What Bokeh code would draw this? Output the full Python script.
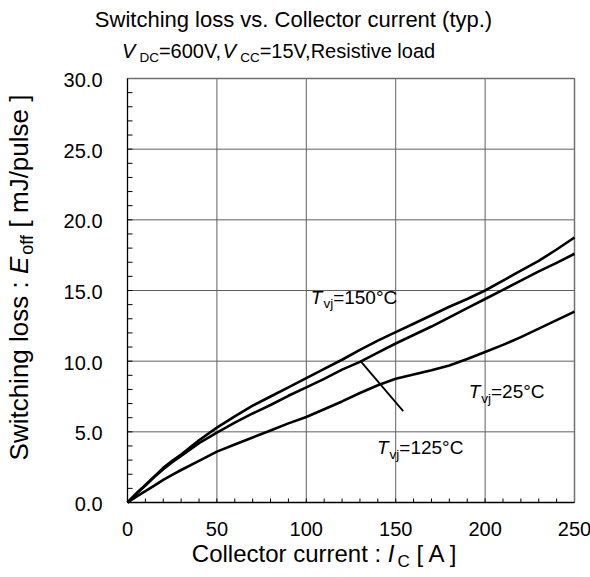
import math
from bokeh.plotting import figure
from bokeh.models import Range1d, Label
from bokeh.core.properties import value
from bokeh.embed import file_html
from bokeh.resources import INLINE

# ---------------- data ----------------
current_A = [0, 5, 10, 15, 20, 25, 30, 40, 50, 60, 70, 80, 90, 100, 110, 120, 130,
             140, 150, 160, 170, 180, 190, 200, 210, 220, 230, 240, 250]
eoff_150C = [0, 0.65, 1.25, 1.85, 2.45, 2.95, 3.4, 4.4, 5.3, 6.1, 6.85, 7.5, 8.15, 8.8,
             9.45, 10.1, 10.8, 11.45, 12.05, 12.65, 13.25, 13.85, 14.4, 15.0, 15.7,
             16.4, 17.1, 17.9, 18.75]
eoff_125C = [0, 0.62, 1.2, 1.8, 2.35, 2.85, 3.3, 4.2, 4.95, 5.65, 6.3, 6.9, 7.55, 8.15,
             8.75, 9.4, 9.95, 10.6, 11.25, 11.85, 12.45, 13.1, 13.75, 14.4, 15.05,
             15.7, 16.35, 16.95, 17.6]
eoff_25C = [0, 0.42, 0.8, 1.2, 1.6, 1.95, 2.3, 2.95, 3.6, 4.1, 4.6, 5.1, 5.6, 6.05,
            6.6, 7.15, 7.75, 8.3, 8.75, 9.05, 9.35, 9.7, 10.15, 10.65, 11.15, 11.7,
            12.3, 12.9, 13.5]

leader_x = [130.7, 154.2]
leader_y = [9.95, 6.46]

x_ticks = [0, 50, 100, 150, 200, 250]
x_tick_labels = ["0", "50", "100", "150", "200", "250"]
x_minor = list(range(0, 251, 10))
y_ticks = [0, 5, 10, 15, 20, 25, 30]
y_tick_labels = ["0.0", "5.0", "10.0", "15.0", "20.0", "25.0", "30.0"]
y_minor = list(range(0, 31, 1))

title_text = "Switching loss vs. Collector current (typ.)"

# ---------------- layout ----------------
W, H = 590, 577
FL, FR, FT, FB = 127, 574, 78, 502   # data frame edges in picture px
XMAX, YMAX = 250.0, 30.0
SX = XMAX / (FR - FL)   # data units per px
SY = YMAX / (FB - FT)
BSHIFT = 0.4            # rendered baseline sits this many em below the anchor

def px2x(px):
    return (px - FL) * SX

def py2y(py):
    return (FB - py) * SY

FONT = "Liberation Sans"
CW = {' ': 278, '(': 333, ')': 333, ',': 278, '.': 278, '/': 278, ':': 278, '=': 584,
      '[': 278, ']': 278, '°': 400, 'A': 667, 'C': 722, 'D': 722, 'E': 667, 'I': 278,
      'J': 500, 'R': 722, 'S': 667, 'T': 611, 'V': 667, 'a': 556, 'c': 500, 'd': 556,
      'e': 556, 'f': 278, 'g': 556, 'h': 556, 'i': 222, 'j': 222, 'l': 222, 'm': 833,
      'n': 556, 'o': 556, 'p': 556, 'r': 333, 's': 500, 't': 278, 'u': 556, 'v': 500,
      'w': 722, 'y': 500}

def tw(s, size):
    return sum(CW.get(c, 556) for c in s) * size / 1000.0

# The plotting area spans the whole canvas so that every text can be drawn
# in data space without being clipped.
p = figure(width=W, height=H, output_backend="svg", toolbar_location=None,
           x_range=Range1d(px2x(0), px2x(W)), y_range=Range1d(py2y(H), py2y(0)),
           x_axis_location=None, y_axis_location=None,
           min_border_left=0, min_border_right=0, min_border_top=0, min_border_bottom=0)
p.grid.visible = False
p.outline_line_color = None
p.background_fill_color = "white"
p.border_fill_color = "white"

GRID = "#606060"
gx = x_ticks[1:-1]
p.segment(x0=gx, y0=[0] * len(gx), x1=gx, y1=[YMAX] * len(gx), line_color=GRID, line_width=1)
gy = y_ticks[1:-1]
p.segment(x0=[0] * len(gy), y0=gy, x1=[XMAX] * len(gy), y1=gy, line_color=GRID, line_width=1)

# minor ticks (inside)
p.segment(x0=x_minor, y0=[0] * len(x_minor), x1=x_minor, y1=[4 * SY] * len(x_minor),
          line_color="black", line_width=1)
p.segment(x0=[0] * len(y_minor), y0=y_minor, x1=[5 * SX] * len(y_minor), y1=y_minor,
          line_color="black", line_width=1)

# frame
p.line([0, XMAX, XMAX], [YMAX, YMAX, 0], line_color="#707070", line_width=1.5)
p.line([0, 0, XMAX], [YMAX, 0, 0], line_color="black", line_width=1.3)

# tick labels (20px)
TS = 20
p.text(x=x_ticks, y=[py2y(536 - BSHIFT * TS)] * len(x_ticks), text=x_tick_labels,
       text_align="center", text_baseline="alphabetic",
       text_font=value(FONT), text_font_size=value(f"{TS}px"), text_color="black")
p.text(x=[px2x(102)] * len(y_ticks),
       y=[t - (9.5 - BSHIFT * TS) * SY for t in y_ticks], text=y_tick_labels,
       text_align="right", text_baseline="alphabetic",
       text_font=value(FONT), text_font_size=value(f"{TS}px"), text_color="black")

# curves
for ys in (eoff_150C, eoff_125C, eoff_25C):
    p.line(current_A, ys, line_color="black", line_width=2.6)
p.line(leader_x, leader_y, line_color="black", line_width=1.8)


def rich(runs, x_px, y_px, align="left", angle=0.0):
    """runs: (text, size, italic, drop_px, gap_px); y_px (or x_px if rotated) = baseline"""
    clean = []
    for t, s, it, d, g in runs:
        lead = len(t) - len(t.lstrip(" "))
        trail = len(t) - len(t.rstrip(" "))
        core = t.strip(" ")
        clean.append((core, s, it, d, g + tw(" " * lead, s), tw(" " * trail, s)))
    total = sum(tw(t, s) + g + a for t, s, it, d, g, a in clean)
    if angle == 0.0:
        cur = x_px - total / 2 if align == "center" else x_px
    else:
        cur = y_px + total / 2 if align == "center" else y_px
    for t, s, it, d, g, a in clean:
        if angle == 0.0:
            cur += g
            xx, yy = px2x(cur), py2y(y_px + d - BSHIFT * s)
        else:
            cur -= g
            xx, yy = px2x(x_px + d - BSHIFT * s), py2y(cur)
        p.add_layout(Label(x=xx, y=yy, text=t, angle=angle,
                           text_font=FONT, text_font_size=f"{s}px",
                           text_font_style="italic" if it else "normal",
                           text_align="left", text_baseline="alphabetic",
                           text_color="black"))
        if angle == 0.0:
            cur += tw(t, s) + a
        else:
            cur -= tw(t, s) + a

# titles
rich([(title_text, 22, False, 0, 0)], 293, 28, "center")
rich([("V", 20, True, 0, 0), ("DC", 13.5, False, 4, 4), ("=600V,", 20, False, 0, 0),
      ("V", 20, True, 0, 0), ("CC", 13.5, False, 4, 4),
      ("=15V,Resistive load", 20, False, 0, 0)], 279, 58, "center")
# axis labels
rich([("Collector current : ", 24, False, 0, 0), ("I", 24, True, 0, 0),
      ("C", 17, False, 5, 3), (" [ A ]", 24, False, 0, 0)], 325, 563, "center")
rich([("Switching loss : ", 26, False, 0, 0), ("E", 26, True, 0, 0),
      ("off", 18, False, 5, 2), (" [ mJ/pulse ]", 26, False, 0, 0)],
     29, 277, "center", angle=math.pi / 2)

# curve annotations
def tvj(label, x_data, y_data):
    rich([("T", 19, True, 0, 0), ("vj", 13.5, False, 4, 1), (label, 19, False, 0, 0)],
         FL + x_data / SX, FB - y_data / SY)

tvj("=150°C", 102.5, 14.0)
tvj("=25°C", 190.8, 7.29)
tvj("=125°C", 139.5, 3.33)

open("out.html", "w").write(file_html(p, INLINE))
